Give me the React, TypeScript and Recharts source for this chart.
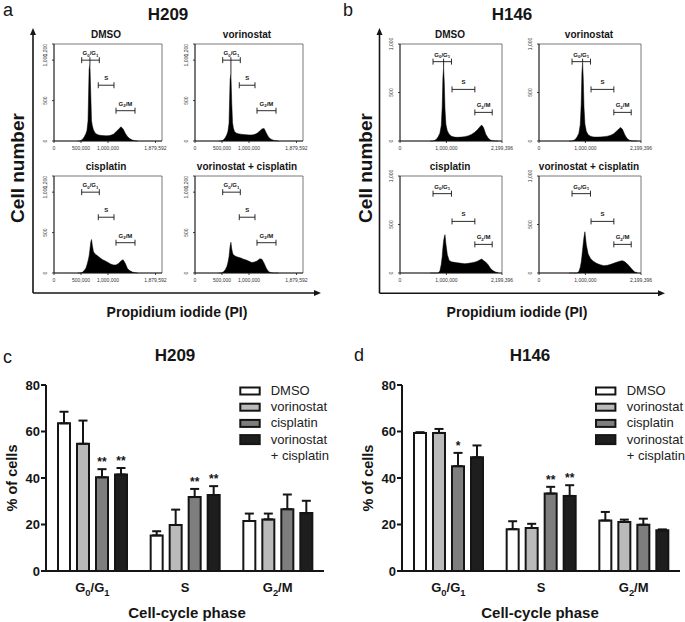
import React from 'react';
import {
  AreaChart, Area, XAxis, YAxis, ReferenceArea, ReferenceLine, ReferenceDot,
  BarChart, Bar, ErrorBar, LabelList,
} from 'recharts';

const FONT = '"Liberation Sans", Arial, Helvetica, sans-serif';
const INK = '#151515';

// ---- flow cytometry histograms: PI intensity vs cell number ----
const h209Pi = [440000, 480000, 520000, 560000, 590000, 610000, 630000, 650000, 665000, 680000, 695000, 710000, 730000, 760000, 800000, 850000, 900000, 950000, 1000000, 1050000, 1100000, 1150000, 1200000, 1240000, 1280000, 1320000, 1360000, 1400000, 1450000, 1500000, 1550000];
const h209DmsoCounts = [0, 0, 15, 50, 90, 130, 250, 880, 950, 600, 250, 190, 140, 100, 80, 70, 68, 65, 65, 70, 85, 115, 150, 175, 150, 95, 55, 30, 12, 3, 0];
const h209VorCounts = [0, 0, 10, 40, 80, 120, 220, 760, 830, 480, 230, 160, 120, 100, 90, 85, 80, 78, 75, 75, 80, 95, 125, 150, 155, 100, 50, 25, 10, 3, 0];
const h209CisCounts = [0, 0, 5, 30, 60, 100, 150, 210, 290, 380, 415, 340, 265, 235, 215, 190, 165, 150, 130, 110, 100, 100, 120, 150, 165, 120, 55, 30, 12, 4, 0];
const h209ComboCounts = [0, 0, 10, 40, 80, 130, 200, 330, 380, 300, 250, 225, 215, 205, 195, 185, 170, 160, 145, 130, 135, 150, 175, 170, 120, 60, 20, 5, 0, 0, 0];

const h146Pi = [650000, 700000, 740000, 780000, 820000, 860000, 890000, 910000, 925000, 940000, 955000, 970000, 990000, 1020000, 1060000, 1110000, 1170000, 1240000, 1320000, 1400000, 1480000, 1550000, 1610000, 1670000, 1720000, 1760000, 1800000, 1850000, 1900000, 1950000, 2000000, 2060000, 2120000];
const h146DmsoCounts = [0, 0, 5, 15, 40, 80, 160, 350, 650, 760, 600, 330, 170, 105, 70, 50, 40, 38, 40, 45, 55, 70, 90, 115, 145, 165, 140, 70, 30, 10, 3, 0, 0];
const h146VorCounts = [0, 0, 5, 15, 40, 80, 170, 380, 700, 810, 640, 350, 175, 100, 65, 50, 42, 40, 42, 45, 50, 60, 75, 100, 125, 140, 120, 65, 25, 8, 2, 0, 0];
const h146CisCounts = [0, 0, 0, 0, 0, 20, 90, 170, 260, 330, 370, 395, 300, 190, 130, 115, 110, 105, 100, 96, 100, 106, 112, 122, 135, 144, 130, 112, 85, 50, 25, 10, 2];
const h146ComboCounts = [0, 0, 0, 0, 0, 15, 60, 110, 170, 240, 310, 370, 425, 290, 195, 150, 122, 100, 85, 76, 80, 90, 100, 110, 118, 124, 127, 115, 95, 70, 40, 12, 3];

const h209XTicks = [0, 500000, 1000000, 1879592];
const h209YTicks = [0, 500, 1000, 1200];
const h146XTicks = [0, 1000000, 2199396];
const h146YTicks = [0, 500, 1000];

const gateLabels = ['G_0/G_1', 'S', 'G_2/M'];
const h209GateFrom = [513000, 820000, 1148000];
const h209GateTo = [839000, 1111000, 1500000];
const h209GateLevel = [1000, 690, 375];
const h146GateFrom = [712000, 1122000, 1614000];
const h146GateTo = [1110000, 1614000, 1988000];
const h146GateLevel = [818, 532, 295];

const conditions = ['DMSO', 'vorinostat', 'cisplatin', 'vorinostat + cisplatin'];

// ---- cell-cycle distribution, % of cells (mean + SD) ----
const phases = ['G_0/G_1', 'S', 'G_2/M'];

const h209DmsoPct = [63.5, 15.3, 21.5];
const h209VorPct = [54.7, 19.8, 22.2];
const h209CisPct = [40.3, 31.8, 26.6];
const h209ComboPct = [41.5, 32.7, 24.9];
const h209DmsoSd = [5.0, 1.8, 3.2];
const h209VorSd = [10.0, 6.6, 2.5];
const h209CisSd = [3.5, 3.5, 6.3];
const h209ComboSd = [2.8, 3.8, 5.3];
const h209CisSig = ['**', '**', ''];
const h209ComboSig = ['**', '**', ''];

const h146DmsoPct = [59.4, 18.0, 21.7];
const h146VorPct = [59.4, 18.5, 21.1];
const h146CisPct = [45.1, 33.3, 19.9];
const h146ComboPct = [48.9, 32.3, 17.5];
const h146DmsoSd = [0.3, 3.4, 3.7];
const h146VorSd = [1.7, 1.8, 1.0];
const h146CisSd = [5.7, 2.9, 2.6];
const h146ComboSd = [5.1, 4.6, 0.4];
const h146CisSig = ['*', '**', ''];
const h146ComboSig = ['', '**', ''];

const pctTicks = [0, 20, 40, 60, 80];
const legendLines = [['DMSO'], ['vorinostat'], ['cisplatin'], ['vorinostat', '+ cisplatin']];

const seriesKeys = ['dmso', 'vor', 'cis', 'combo'];
const barFills = ['#ffffff', '#bababa', '#7e7e7e', '#1e1e1e'];

// text with "_x" subscripts, e.g. G_0/G_1
function PhaseText({ x, y, label, size, anchor = 'middle' }: any) {
  const parts = label.split(/(_\d)/).filter(Boolean);
  const shift = size * 0.28;
  let down = false;
  return (
    <text x={x} y={y} textAnchor={anchor} fontFamily={FONT} fontWeight="bold" fontSize={size} fill={INK}>
      {parts.map((p: string, i: number) => {
        const sub = p.startsWith('_');
        const dy = sub ? (down ? 0 : shift) : (down ? -shift : 0);
        down = sub;
        return (
          <tspan key={i} dy={dy} fontSize={sub ? size * 0.72 : size}>
            {sub ? p.slice(1) : p}
          </tspan>
        );
      })}
    </text>
  );
}

const HIST_H = 97;
const PAD_L = 16;
const PAD_R = 14;
const PAD_T = 12;
const PAD_B = 12;

function Histogram(props: any) {
  const { left, top, width, pi, counts, xMax, xTicks, yMax, yTicks, gateFrom, gateTo, gateLevel, marker, flushTop } = props;
  const rows = pi.map((v: number, i: number) => ({ pi: v, count: counts[i] }));
  const cap = (yMax / HIST_H) * 3;
  const peak = Math.max(...counts);
  const peakPi = pi[counts.indexOf(peak)];
  const axisStyle = { stroke: INK, strokeWidth: 0.8 };

  return (
    <div style={{ position: 'absolute', left: left - PAD_L, top: top - PAD_T }}>
      <AreaChart
        width={PAD_L + width + PAD_R}
        height={PAD_T + HIST_H + PAD_B}
        data={rows}
        margin={{ top: PAD_T, right: PAD_R, bottom: 0, left: 0 }}
      >
        <XAxis
          dataKey="pi" type="number" domain={[0, xMax]} ticks={xTicks} interval={0}
          height={PAD_B} tickSize={2} tickMargin={2} axisLine={axisStyle} tickLine={axisStyle}
          tick={(p: any) => (
            <text x={p.x} y={p.y + 5} textAnchor="middle" fontFamily={FONT} fontSize={5} fill="#333">
              {Number(p.payload.value).toLocaleString('en-US')}
            </text>
          )}
        />
        <YAxis
          type="number" domain={[0, yMax]} ticks={yTicks} interval={0}
          width={PAD_L} tickSize={2} tickMargin={2} axisLine={axisStyle} tickLine={axisStyle}
          tick={(p: any) => {
            const v = p.payload.value;
            const bx = p.x - 3;
            return (
              <text
                x={bx} y={p.y} transform={`rotate(-90 ${bx} ${p.y})`}
                textAnchor={flushTop && v === yMax ? 'end' : 'middle'}
                fontFamily={FONT} fontSize={5} fill="#333"
              >
                {Number(v).toLocaleString('en-US')}
              </text>
            );
          }}
        />
        <ReferenceArea x1={0} x2={xMax} y1={0} y2={yMax} fill="none" stroke="#555" strokeWidth={0.8} ifOverflow="visible" />
        <Area
          type="linear" dataKey="count" stroke="#000" strokeWidth={0.5} fill="#000" fillOpacity={1}
          dot={false} activeDot={false} isAnimationActive={false}
        />
        {gateLabels.map((label, i) => [
          <ReferenceLine key={`g${i}`} segment={[{ x: gateFrom[i], y: gateLevel[i] }, { x: gateTo[i], y: gateLevel[i] }]} stroke={INK} strokeWidth={0.9} ifOverflow="visible" />,
          <ReferenceLine key={`a${i}`} segment={[{ x: gateFrom[i], y: gateLevel[i] - cap }, { x: gateFrom[i], y: gateLevel[i] + cap }]} stroke={INK} strokeWidth={0.9} ifOverflow="visible" />,
          <ReferenceLine key={`b${i}`} segment={[{ x: gateTo[i], y: gateLevel[i] - cap }, { x: gateTo[i], y: gateLevel[i] + cap }]} stroke={INK} strokeWidth={0.9} ifOverflow="visible" />,
          <ReferenceDot
            key={`l${i}`} x={(gateFrom[i] + gateTo[i]) / 2} y={gateLevel[i]} r={0} ifOverflow="visible"
            shape={(p: any) => <PhaseText x={p.cx} y={p.cy - 5} label={label} size={6} />}
          />,
        ])}
        {marker && (
          <ReferenceLine
            segment={[{ x: peakPi, y: peak }, { x: peakPi, y: gateLevel[0] + cap }]}
            stroke={INK} strokeWidth={0.9} ifOverflow="visible"
          />
        )}
      </AreaChart>
    </div>
  );
}

function starContent(key: string, rows: any[]) {
  return (p: any) => {
    const row = p.value && typeof p.value === 'object' ? p.value : rows[p.index];
    if (!row || !row[key + 'Sig']) return null;
    const vb = p.viewBox && p.viewBox.width !== undefined ? p.viewBox : p;
    const top = Math.min(vb.y, vb.y + vb.height);
    const h = Math.abs(vb.height);
    const errTop = top - (row[key + 'Sd'] / row[key]) * h;
    return (
      <text x={vb.x + vb.width / 2} y={errTop - 3} textAnchor="middle" fontFamily={FONT} fontWeight="bold" fontSize={12} fill={INK}>
        {row[key + 'Sig']}
      </text>
    );
  };
}

function PctChart({ left, width, marginLeft, marginRight, means, sds, sigs }: any) {
  const rows = phases.map((phase, i) => {
    const row: any = { phase };
    seriesKeys.forEach((k, j) => {
      row[k] = means[j][i];
      row[k + 'Sd'] = sds[j][i];
      row[k + 'Err'] = [0, sds[j][i]];
      row[k + 'Sig'] = sigs[j][i];
    });
    return row;
  });
  const axisStyle = { stroke: INK, strokeWidth: 2 };
  return (
    <div style={{ position: 'absolute', left, top: 370 }}>
      <BarChart
        width={width} height={252} data={rows} barSize={12} barGap={7}
        margin={{ top: 15, right: marginRight, bottom: 31, left: marginLeft }}
      >
        <XAxis
          dataKey="phase" height={20} tickLine={false} axisLine={axisStyle}
          tick={(p: any) => <PhaseText x={p.x} y={p.y + 13} label={p.payload.value} size={13} />}
        />
        <YAxis
          domain={[0, 80]} ticks={pctTicks} interval={0} width={40} tickSize={5} tickMargin={1}
          axisLine={axisStyle} tickLine={axisStyle}
          tick={{ fontFamily: FONT, fontWeight: 'bold', fontSize: 13, fill: INK }}
        />
        {seriesKeys.map((k, j) => (
          <Bar key={k} dataKey={k} fill={barFills[j]} stroke={INK} strokeWidth={2} isAnimationActive={false}>
            <ErrorBar dataKey={k + 'Err'} direction="y" width={4.5} stroke={INK} strokeWidth={2} />
            <LabelList dataKey={(r: any) => r} content={starContent(k, rows)} />
          </Bar>
        ))}
      </BarChart>
    </div>
  );
}

function Arrow({ x1, y1, x2, y2 }: any) {
  const ang = Math.atan2(y2 - y1, x2 - x1);
  const len = 7;
  const half = 3;
  const bx = x2 - len * Math.cos(ang);
  const by = y2 - len * Math.sin(ang);
  const px = -Math.sin(ang) * half;
  const py = Math.cos(ang) * half;
  return (
    <g>
      <line x1={x1} y1={y1} x2={bx} y2={by} stroke={INK} strokeWidth={1.6} />
      <polygon points={`${x2},${y2} ${bx + px},${by + py} ${bx - px},${by - py}`} fill={INK} />
    </g>
  );
}

function PctLegend({ boxX, textX }: any) {
  return (
    <g>
      {legendLines.map((lines, i) => {
        const base = 395 + i * 16.2;
        const tall = i === 3;
        return (
          <g key={i}>
            <rect
              x={boxX + 1} y={base - 4 - (tall ? 4.5 : 3.5)} width={19.4} height={tall ? 9 : 7}
              fill={barFills[i]} stroke={INK} strokeWidth={2}
            />
            {lines.map((t, j) => (
              <text key={j} x={textX} y={base + j * 16.5} fontFamily={FONT} fontSize={13} fill="#222">{t}</text>
            ))}
          </g>
        );
      })}
    </g>
  );
}

const histCols209 = [54, 195];
const histCols146 = [400, 539];
const histRows = [44, 176];

export default function App() {
  const h209Sets = [h209DmsoCounts, h209VorCounts, h209CisCounts, h209ComboCounts];
  const h146Sets = [h146DmsoCounts, h146VorCounts, h146CisCounts, h146ComboCounts];

  const h209Plots = conditions.map((title, i) => ({
    title, left: histCols209[i % 2], top: histRows[Math.floor(i / 2)], counts: h209Sets[i], marker: i < 2,
  }));
  const h146Plots = conditions.map((title, i) => ({
    title, left: histCols146[i % 2], top: histRows[Math.floor(i / 2)], counts: h146Sets[i], marker: i < 2,
  }));

  return (
    <div style={{ position: 'fixed', left: 0, top: 0, width: 685, height: 622, overflow: 'hidden', background: '#fff', fontFamily: FONT }}>
      {h209Plots.map((p) => (
        <Histogram
          key={`a-${p.title}`} left={p.left} top={p.top} width={108} pi={h209Pi} counts={p.counts}
          xMax={2000000} xTicks={h209XTicks} yMax={1200} yTicks={h209YTicks} flushTop
          gateFrom={h209GateFrom} gateTo={h209GateTo} gateLevel={h209GateLevel} marker={p.marker}
        />
      ))}
      {h146Plots.map((p) => (
        <Histogram
          key={`b-${p.title}`} left={p.left} top={p.top} width={102} pi={h146Pi} counts={p.counts}
          xMax={2199396} xTicks={h146XTicks} yMax={1000} yTicks={h146YTicks} flushTop={false}
          gateFrom={h146GateFrom} gateTo={h146GateTo} gateLevel={h146GateLevel} marker={p.marker}
        />
      ))}

      <PctChart
        left={0} width={340} marginLeft={6} marginRight={16}
        means={[h209DmsoPct, h209VorPct, h209CisPct, h209ComboPct]}
        sds={[h209DmsoSd, h209VorSd, h209CisSd, h209ComboSd]}
        sigs={[['', '', ''], ['', '', ''], h209CisSig, h209ComboSig]}
      />
      <PctChart
        left={340} width={345} marginLeft={22} marginRight={5}
        means={[h146DmsoPct, h146VorPct, h146CisPct, h146ComboPct]}
        sds={[h146DmsoSd, h146VorSd, h146CisSd, h146ComboSd]}
        sigs={[['', '', ''], ['', '', ''], h146CisSig, h146ComboSig]}
      />

      <svg width={685} height={622} style={{ position: 'absolute', left: 0, top: 0, pointerEvents: 'none' }}>
        {/* panel letters and titles */}
        <text x={3} y={16} fontFamily={FONT} fontSize={18} fill={INK}>a</text>
        <text x={343} y={16} fontFamily={FONT} fontSize={18} fill={INK}>b</text>
        <text x={3} y={363} fontFamily={FONT} fontSize={18} fill={INK}>c</text>
        <text x={354} y={361} fontFamily={FONT} fontSize={18} fill={INK}>d</text>
        <text x={168} y={20} textAnchor="middle" fontFamily={FONT} fontWeight="bold" fontSize={17} fill={INK}>H209</text>
        <text x={512} y={20} textAnchor="middle" fontFamily={FONT} fontWeight="bold" fontSize={17} fill={INK}>H146</text>
        <text x={175} y={361} textAnchor="middle" fontFamily={FONT} fontWeight="bold" fontSize={17} fill={INK}>H209</text>
        <text x={530} y={361} textAnchor="middle" fontFamily={FONT} fontWeight="bold" fontSize={17} fill={INK}>H146</text>

        {h209Plots.map((p) => (
          <text key={`ta-${p.title}`} x={p.left + 52} y={p.top - 6.5} textAnchor="middle" fontFamily={FONT} fontWeight="bold" fontSize={10} fill={INK}>{p.title}</text>
        ))}
        {h146Plots.map((p) => (
          <text key={`tb-${p.title}`} x={p.left + 50} y={p.top - 6.5} textAnchor="middle" fontFamily={FONT} fontWeight="bold" fontSize={10} fill={INK}>{p.title}</text>
        ))}

        {/* histogram panel axes */}
        <Arrow x1={33} y1={293} x2={33} y2={28} />
        <Arrow x1={33} y1={293} x2={321} y2={293} />
        <Arrow x1={379.5} y1={293.3} x2={379.5} y2={28} />
        <Arrow x1={379.5} y1={293.3} x2={665} y2={293.3} />
        <text x={17} y={168} transform="rotate(-90 17 168)" textAnchor="middle" dominantBaseline="central" fontFamily={FONT} fontWeight="bold" fontSize={19} fill={INK}>Cell number</text>
        <text x={365} y={168} transform="rotate(-90 365 168)" textAnchor="middle" dominantBaseline="central" fontFamily={FONT} fontWeight="bold" fontSize={19} fill={INK}>Cell number</text>
        <text x={177} y={317} textAnchor="middle" fontFamily={FONT} fontWeight="bold" fontSize={14} fill={INK}>Propidium iodide (PI)</text>
        <text x={517} y={317} textAnchor="middle" fontFamily={FONT} fontWeight="bold" fontSize={14} fill={INK}>Propidium iodide (PI)</text>

        {/* bar chart axis titles */}
        <text x={12} y={478} transform="rotate(-90 12 478)" textAnchor="middle" dominantBaseline="central" fontFamily={FONT} fontWeight="bold" fontSize={14.5} fill={INK}>% of cells</text>
        <text x={368} y={478} transform="rotate(-90 368 478)" textAnchor="middle" dominantBaseline="central" fontFamily={FONT} fontWeight="bold" fontSize={14.5} fill={INK}>% of cells</text>
        <text x={187} y={618} textAnchor="middle" fontFamily={FONT} fontWeight="bold" fontSize={15} fill={INK}>Cell-cycle phase</text>
        <text x={540} y={618} textAnchor="middle" fontFamily={FONT} fontWeight="bold" fontSize={15} fill={INK}>Cell-cycle phase</text>

        <PctLegend boxX={239.3} textX={270.7} />
        <PctLegend boxX={595} textX={626.7} />
      </svg>
    </div>
  );
}
